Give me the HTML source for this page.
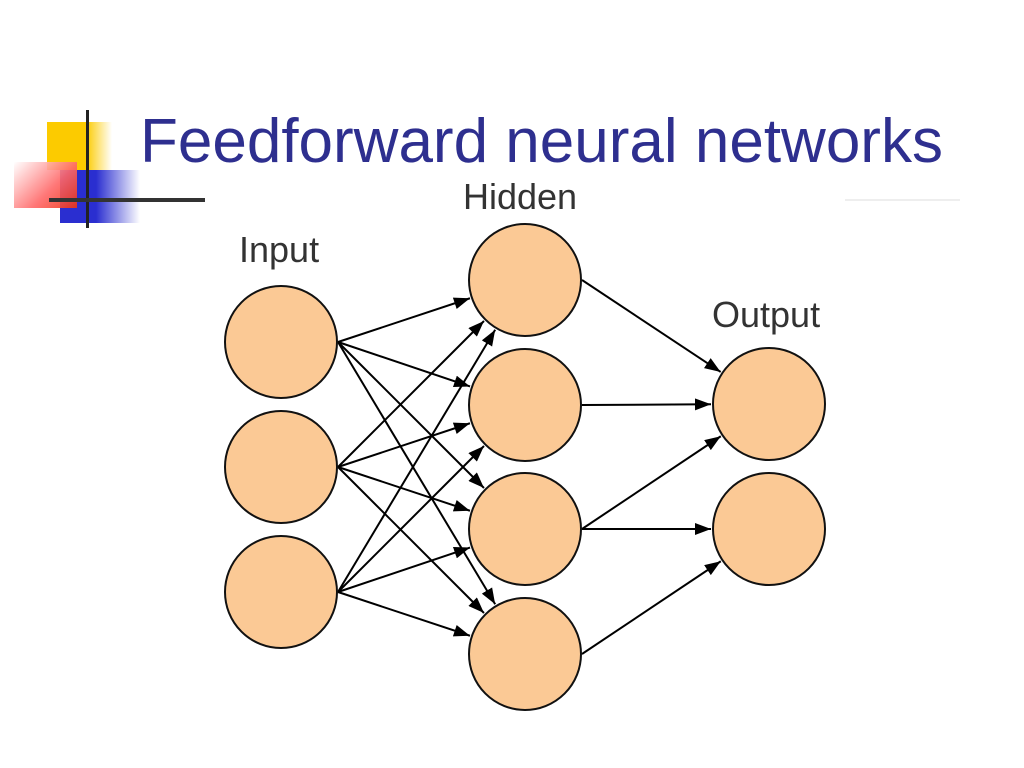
<!DOCTYPE html>
<html><head><style>
body{margin:0;width:1024px;height:768px;background:#fff;overflow:hidden;position:relative;font-family:"Liberation Sans",sans-serif}
.t{position:absolute;left:140px;top:106px;font-size:62px;color:#2e2f8f;white-space:nowrap;letter-spacing:0px}
.lab{position:absolute;font-size:36px;color:#333;white-space:nowrap;letter-spacing:0px}
</style></head><body>
<div style="position:absolute;left:47px;top:122px;width:65px;height:48px;background:linear-gradient(90deg,#fccb00 60%,#fff)"></div>
<div style="position:absolute;left:60px;top:170px;width:80px;height:53px;background:linear-gradient(90deg,#2a2ed0 45%,#fff)"></div>
<div style="position:absolute;left:14px;top:162px;width:63px;height:46px;background:linear-gradient(135deg,#fff 0%,#f66 60%,#e31 100%);opacity:.9"></div>
<div style="position:absolute;left:86px;top:110px;width:3px;height:118px;background:#222"></div>
<div style="position:absolute;left:49px;top:198px;width:156px;height:4px;background:#333"></div>
<div style="position:absolute;left:845px;top:199px;width:115px;height:2px;background:#eee"></div>
<div class="t">Feedforward neural networks</div>
<div class="lab" style="left:239px;top:229px">Input</div>
<div class="lab" style="left:463px;top:176px">Hidden</div>
<div class="lab" style="left:712px;top:294px">Output</div>
<svg id="s" width="1024" height="768" style="position:absolute;left:0;top:0">
<defs><marker id="a" markerWidth="16" markerHeight="12" refX="16" refY="6" orient="auto" markerUnits="userSpaceOnUse"><path d="M0,0 L16,6 L0,12 z" fill="#000"/></marker></defs>
</svg>
<script>
var s=document.getElementById('s'),ns='http://www.w3.org/2000/svg',r=56;
var I=[[281,342],[281,467],[281,592]],H=[[525,280],[525,405],[525,529],[525,654]],O=[[769,404],[769,529]];
function ln(x1,y1,cx,cy){var dx=cx-x1,dy=cy-y1,d=Math.hypot(dx,dy),t=(d-r-2)/d;var l=document.createElementNS(ns,'line');l.setAttribute('x1',x1);l.setAttribute('y1',y1);l.setAttribute('x2',x1+dx*t);l.setAttribute('y2',y1+dy*t);l.setAttribute('stroke','#000');l.setAttribute('stroke-width','2');l.setAttribute('marker-end','url(#a)');s.appendChild(l);}
I.forEach(function(a){H.forEach(function(b){ln(a[0]+r+1,a[1],b[0],b[1]);});});
[[0,0],[1,0],[2,0],[2,1],[3,1]].forEach(function(p){ln(H[p[0]][0]+r+1,H[p[0]][1],O[p[1]][0],O[p[1]][1]);});
I.concat(H,O).forEach(function(c){var e=document.createElementNS(ns,'circle');e.setAttribute('cx',c[0]);e.setAttribute('cy',c[1]);e.setAttribute('r',r);e.setAttribute('fill','#fbc995');e.setAttribute('stroke','#111');e.setAttribute('stroke-width','2');s.appendChild(e);});
</script>
</body></html>
